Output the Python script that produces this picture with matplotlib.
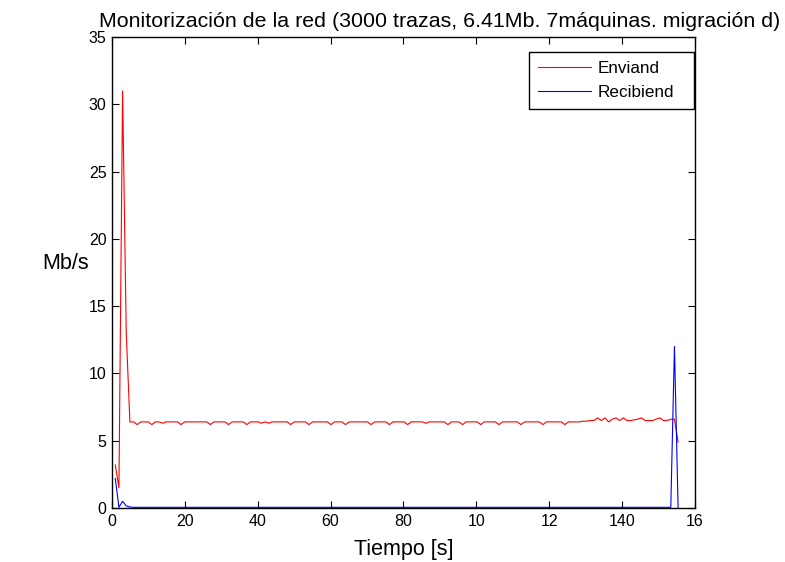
import numpy as np
import matplotlib.pyplot as plt

plt.rcParams['font.family'] = ['Liberation Sans', 'DejaVu Sans']

# Throughput samples (Mb/s), one per sampling interval
enviando = [3.2, 1.5, 31.0, 13.0, 6.4, 6.4, 6.2, 6.4, 6.4, 6.4,
            6.2, 6.4, 6.4, 6.3, 6.4, 6.4, 6.4, 6.4, 6.2, 6.4,
            6.4, 6.4, 6.4, 6.4, 6.4, 6.4, 6.2, 6.4, 6.4, 6.4,
            6.4, 6.2, 6.4, 6.4, 6.4, 6.4, 6.2, 6.4, 6.4, 6.4,
            6.3, 6.4, 6.3, 6.4, 6.4, 6.4, 6.4, 6.4, 6.2, 6.4,
            6.4, 6.4, 6.4, 6.2, 6.4, 6.4, 6.4, 6.4, 6.4, 6.2,
            6.4, 6.4, 6.4, 6.2, 6.4, 6.4, 6.4, 6.4, 6.4, 6.4,
            6.2, 6.4, 6.4, 6.4, 6.4, 6.2, 6.4, 6.4, 6.4, 6.4,
            6.2, 6.4, 6.4, 6.4, 6.4, 6.3, 6.4, 6.4, 6.4, 6.4,
            6.4, 6.2, 6.4, 6.4, 6.4, 6.2, 6.4, 6.4, 6.4, 6.4,
            6.2, 6.4, 6.4, 6.4, 6.4, 6.2, 6.4, 6.4, 6.4, 6.4,
            6.4, 6.2, 6.4, 6.4, 6.4, 6.4, 6.4, 6.2, 6.4, 6.4,
            6.4, 6.4, 6.4, 6.2, 6.4, 6.4, 6.4, 6.4, 6.45, 6.45,
            6.5, 6.5, 6.7, 6.5, 6.7, 6.4, 6.6, 6.7, 6.5, 6.7,
            6.5, 6.5, 6.55, 6.6, 6.7, 6.5, 6.5, 6.5, 6.6, 6.7,
            6.5, 6.5, 6.6, 6.6, 4.9]

recibiendo = [2.2, 0.05, 0.5, 0.15, 0.08] + [0.05] * 148 + [12.0, 0.0]

tiempo = 0.9 + 1.003 * np.arange(len(recibiendo))

xticks = [0, 20, 40, 60, 80, 100, 120, 140, 160]
xticklabels = ['0', '20', '40', '60', '80', '10', '12', '140', '16']
yticks = [0, 5, 10, 15, 20, 25, 30, 35]

fig = plt.figure(figsize=(7.85, 5.62), dpi=100)
ax = fig.add_axes([112 / 785, 1 - 508 / 562, 583 / 785, 471 / 562])

ax.plot(tiempo[:len(enviando)], enviando, color='red', lw=0.8, label='Enviand')
ax.plot(tiempo, recibiendo, color='blue', lw=0.8, label='Recibiend')

ax.set_xlim(0, 160)
ax.set_ylim(0, 35)
ax.set_xticks(xticks)
ax.set_xticklabels(xticklabels)
ax.set_yticks(yticks)
ax.tick_params(direction='in', top=True, right=True, length=5, width=0.8,
               labelsize=11.5, pad=4)
for s in ax.spines.values():
    s.set_linewidth(1.0)

ax.set_xlabel('Tiempo [s]', fontsize=15.5, va='center')
ax.xaxis.set_label_coords(0.5, -0.088)
ax.set_ylabel('Mb/s', fontsize=15.5, rotation=0, va='center', ha='center')
ax.yaxis.set_label_coords(-0.08, 0.52)

fig.text(440 / 785, 1 - 27 / 562, 'Monitorización de la red (3000 trazas, 6.41Mb. 7máquinas. migración d)',
         fontsize=15.4, ha='center', va='baseline')

# legend box stretched to a fixed width, leaving room to the right of the labels
leg = ax.legend(loc='upper right', bbox_to_anchor=(0.715, 0.85, 0.283, 0.118),
                mode='expand', borderaxespad=0,
                fancybox=False, edgecolor='black', framealpha=1, fontsize=12.3,
                handlelength=3.1, handletextpad=0.35, borderpad=0.55, labelspacing=0.5)
leg.get_frame().set_linewidth(1.0)

fig.savefig('out.png', dpi=100)
